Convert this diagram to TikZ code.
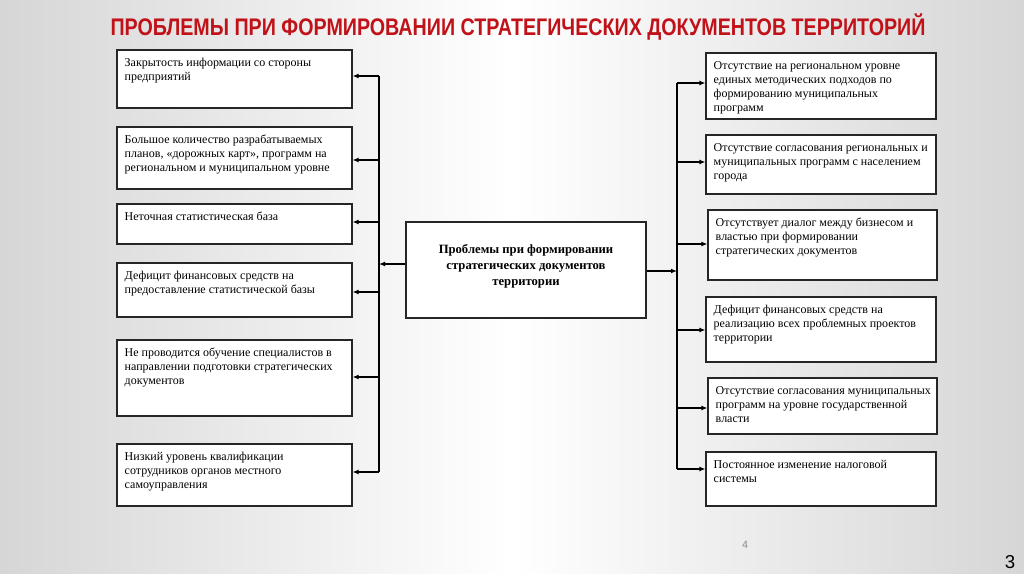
\documentclass[tikz,border=0pt]{standalone}
\usepackage{fontspec}
\usepackage{graphicx}
\setmainfont{Liberation Serif}
\newfontfamily\sansf{Liberation Sans}
\usetikzlibrary{arrows.meta,fit}
\definecolor{titlered}{RGB}{192,18,24}
\definecolor{bgedge}{RGB}{214,214,214}
\tikzset{
  box/.style={draw=black!85, line width=0.8pt, fill=white, inner sep=0pt, rectangle},
  txt/.style={inner sep=0pt, align=left, font=\fontsize{9}{10.5}\selectfont},
  arr/.style={line width=0.9pt, -{Latex[length=4.5pt,width=3.6pt]}},
  bus/.style={line width=0.9pt}
}
\begin{document}
\begin{tikzpicture}[x=0.75pt,y=-0.75pt]
\shade[left color=bgedge, right color=bgedge, middle color=white] (0,0) rectangle (1024,574);
\useasboundingbox (0,0) rectangle (1024,574);

\node[text=titlered, font=\sansf\bfseries\fontsize{18}{20}\selectfont] (title) at (518,27)
 {\scalebox{0.82}[1]{ПРОБЛЕМЫ ПРИ ФОРМИРОВАНИИ СТРАТЕГИЧЕСКИХ ДОКУМЕНТОВ ТЕРРИТОРИЙ}};

% left boxes
\node[box, fit={(117,50) (352,108)}] (L1) {};
\node[box, fit={(117,127) (352,189)}] (L2) {};
\node[box, fit={(117,204) (352,244)}] (L3) {};
\node[box, fit={(117,263) (352,317)}] (L4) {};
\node[box, fit={(117,340) (352,416)}] (L5) {};
\node[box, fit={(117,444) (352,506)}] (L6) {};
\node[txt, anchor=north west] (L1t) at ([xshift=6pt,yshift=-6.5pt]L1.north west) {Закрытость информации со стороны\\предприятий};
\node[txt, anchor=north west] (L2t) at ([xshift=6pt,yshift=-6.5pt]L2.north west) {Большое количество разрабатываемых\\планов, «дорожных карт», программ на\\региональном и муниципальном уровне};
\node[txt, anchor=north west] (L3t) at ([xshift=6pt,yshift=-6.5pt]L3.north west) {Неточная статистическая база};
\node[txt, anchor=north west] (L4t) at ([xshift=6pt,yshift=-6.5pt]L4.north west) {Дефицит финансовых средств на\\предоставление статистической базы};
\node[txt, anchor=north west] (L5t) at ([xshift=6pt,yshift=-6.5pt]L5.north west) {Не проводится обучение специалистов в\\направлении подготовки стратегических\\документов};
\node[txt, anchor=north west] (L6t) at ([xshift=6pt,yshift=-6.5pt]L6.north west) {Низкий уровень квалификации\\сотрудников органов местного\\самоуправления};

% center
\node[box, fit={(406,222) (646,318)}] (C) {};
\node[inner sep=0pt, align=center, font=\bfseries\fontsize{9.5}{12}\selectfont] (Ct) at (526,266) {Проблемы при формировании\\стратегических документов\\территории};

% right boxes
\node[box, fit={(706,53) (936,119)}] (R1) {};
\node[box, fit={(706,135) (936,194)}] (R2) {};
\node[box, fit={(708,210) (937,280)}] (R3) {};
\node[box, fit={(706,297) (936,362)}] (R4) {};
\node[box, fit={(708,378) (937,434)}] (R5) {};
\node[box, fit={(706,452) (936,506)}] (R6) {};
\node[txt, anchor=north west] (R1t) at ([xshift=6pt,yshift=-6.5pt]R1.north west) {Отсутствие на региональном уровне\\единых методических подходов по\\формированию муниципальных\\программ};
\node[txt, anchor=north west] (R2t) at ([xshift=6pt,yshift=-6.5pt]R2.north west) {Отсутствие согласования региональных и\\муниципальных программ с населением\\города};
\node[txt, anchor=north west] (R3t) at ([xshift=6pt,yshift=-6.5pt]R3.north west) {Отсутствует диалог между бизнесом и\\властью при формировании\\стратегических документов};
\node[txt, anchor=north west] (R4t) at ([xshift=6pt,yshift=-6.5pt]R4.north west) {Дефицит финансовых средств на\\реализацию всех проблемных проектов\\территории};
\node[txt, anchor=north west] (R5t) at ([xshift=6pt,yshift=-6.5pt]R5.north west) {Отсутствие согласования муниципальных\\программ на уровне государственной\\власти};
\node[txt, anchor=north west] (R6t) at ([xshift=6pt,yshift=-6.5pt]R6.north west) {Постоянное изменение налоговой\\системы};

% left bus
\coordinate (bl1) at (379,76);
\coordinate (bl2) at (379,160);
\coordinate (bl3) at (379,222);
\coordinate (bl4) at (379,292);
\coordinate (bl5) at (379,377);
\coordinate (bl6) at (379,472);
\coordinate (cl) at (379,264);
\draw[bus] (bl1) -- (bl6);
\foreach \i in {1,...,6} {\draw[arr] (bl\i) -- (bl\i -| L\i.east);}
\draw[arr] (cl -| C.west) -- (cl);

% right bus
\coordinate (br1) at (677,83);
\coordinate (br2) at (677,162);
\coordinate (br3) at (677,244);
\coordinate (br4) at (677,330);
\coordinate (br5) at (677,408);
\coordinate (br6) at (677,469);
\coordinate (cr) at (677,271);
\draw[bus] (br1) -- (br6);
\foreach \i in {1,...,6} {\draw[arr] (br\i) -- (br\i -| R\i.west);}
\draw[arr] (cr -| C.east) -- (cr);

\node[text=black!45, font=\sansf\fontsize{8}{9}\selectfont] (p4) at (745,545) {4};
\node[font=\sansf\fontsize{14}{16}\selectfont] (p3) at (1010,562) {3};
\end{tikzpicture}
\end{document}
